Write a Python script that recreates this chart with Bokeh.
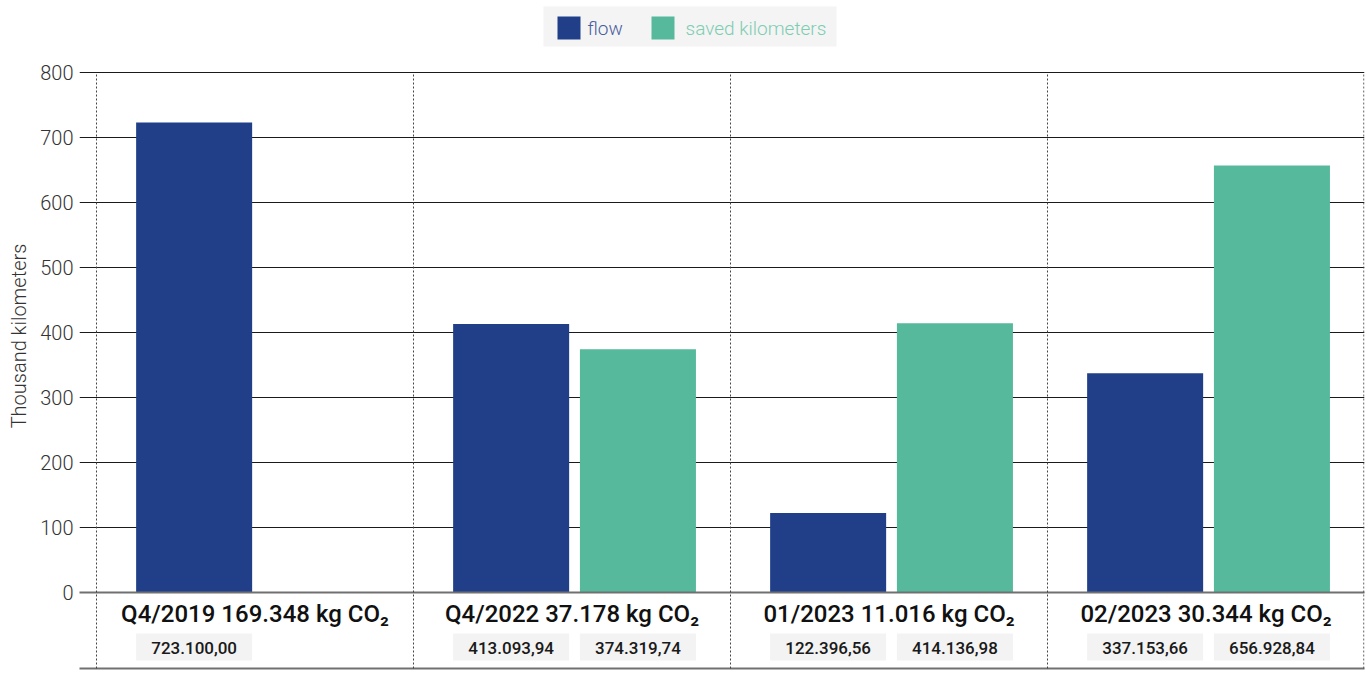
import math
from bokeh.plotting import figure
from bokeh.models import ColumnDataSource, Range1d, FixedTicker
from bokeh.core.properties import value
from bokeh.embed import file_html
from bokeh.resources import INLINE

# ---------------- data ----------------
periods = ["Q4/2019", "Q4/2022", "01/2023", "02/2023"]
co2_kg = [169348, 37178, 11016, 30344]
flow_km = [723100.00, 413093.94, 122396.56, 337153.66]
saved_km = [float("nan"), 374319.74, 414136.98, 656928.84]
series_names = ["flow", "saved kilometers"]
y_ticks = [0, 100, 200, 300, 400, 500, 600, 700, 800]
y_title = "Thousand kilometers"

FLOW_C = "#213f89"
SAVED_C = "#56b99c"
FONT_LIGHT = "Roboto Light"
FONT_MED = "Roboto Medium"

def de_num(v, dec):
    s = f"{v:,.{dec}f}"
    return s.replace(",", "X").replace(".", ",").replace("X", ".")

# ---------------- geometry ----------------
W, H = 1366, 671
LEFT = 79
RIGHT = 2
BAND_PX = 317.0
OFF_PX = 17
PX_PER_UNIT = 0.65
ZERO_CANVAS = 592
y_end = ZERO_CANVAS / PX_PER_UNIT
y_start = -(H - ZERO_CANVAS) / PX_PER_UNIT

def dy(page_y):
    return (592 - page_y) / PX_PER_UNIT

def dx(page_x):
    return (page_x - 96) / BAND_PX

p = figure(width=W, height=H, output_backend="svg", toolbar_location=None,
           x_range=Range1d(-OFF_PX / BAND_PX, 4.0), y_range=Range1d(y_start, y_end),
           min_border_left=LEFT, min_border_right=RIGHT, min_border_top=0, min_border_bottom=0,
           x_axis_location=None)
p.outline_line_color = None
p.background_fill_color = "white"
p.border_fill_color = "white"
p.xgrid.visible = False

yax = p.yaxis[0]
yax.ticker = FixedTicker(ticks=y_ticks)
yax.axis_line_color = None
yax.major_tick_line_color = None
yax.minor_tick_line_color = None
yax.major_tick_out = 0
yax.major_tick_in = 0
yax.major_label_text_font = FONT_LIGHT
yax.major_label_text_font_size = "20px"
yax.major_label_text_color = "#333333"
yax.major_label_standoff = 6
yax.axis_label = y_title
yax.axis_label_text_font = FONT_LIGHT
yax.axis_label_text_font_size = "20px"
yax.axis_label_text_font_style = "normal"
yax.axis_label_text_color = "#333333"
yax.axis_label_standoff = 6

p.ygrid.ticker = FixedTicker(ticks=y_ticks[1:])
p.ygrid.grid_line_color = "#1a1a1a"
p.ygrid.grid_line_width = 1

# ---------------- bars ----------------
n = len(periods)
centers = [i + 0.5 for i in range(n)]
BW = 0.366
flow_x = [c - 0.192 for c in centers]
saved_x = [c + 0.208 for c in centers]

flow_src = ColumnDataSource(dict(x=flow_x, top=[v / 1000 for v in flow_km],
                                 lab=[de_num(v, 2) for v in flow_km]))
sx, stop, slab = [], [], []
for xx, v in zip(saved_x, saved_km):
    if not math.isnan(v):
        sx.append(xx); stop.append(v / 1000); slab.append(de_num(v, 2))
saved_src = ColumnDataSource(dict(x=sx, top=stop, lab=slab))

p.vbar(x="x", top="top", bottom=0, width=BW, source=flow_src,
       fill_color=FLOW_C, line_color=None)
p.vbar(x="x", top="top", bottom=0, width=BW, source=saved_src,
       fill_color=SAVED_C, line_color=None)

# zero line and bottom line
p.segment(x0=[-1], x1=[5], y0=[0], y1=[0], line_color="#707070", line_width=2)
p.segment(x0=[-1], x1=[5], y0=[dy(668)], y1=[dy(668)], line_color="#707070", line_width=2)

# dotted separators
sep_x = [float(i) for i in range(n)] + [3.998]
p.segment(x0=sep_x, x1=sep_x, y0=[dy(668)] * len(sep_x), y1=[800] * len(sep_x),
          line_color="#444444", line_width=1, line_dash="2 2")

# category labels
cat_src = ColumnDataSource(dict(x=centers,
                                t=[f"{pp} {de_num(c, 0)} kg CO\u2082" for pp, c in zip(periods, co2_kg)]))
p.text(x="x", y=dy(613), text="t", source=cat_src, text_font=value(FONT_MED),
       text_font_size="24px", text_color="#111111",
       text_align="center", text_baseline="middle")

# value boxes
for src in (flow_src, saved_src):
    p.rect(x="x", y=(dy(633) + dy(660)) / 2, width=BW, height=dy(633) - dy(660),
           source=src, fill_color="#f3f3f3", line_color=None)
    p.text(x="x", y=dy(647), text="lab", source=src, text_font=value(FONT_MED),
           text_font_size="17px", text_color="#1a1a1a",
           text_align="center", text_baseline="middle")

# ---------------- legend (drawn) ----------------
p.quad(left=[dx(543)], right=[dx(836)], top=[dy(6)], bottom=[dy(46)],
       fill_color="#f4f4f4", line_color=None)
leg_sq_x = [dx(557), dx(651)]
p.quad(left=leg_sq_x, right=[v + 23 / BAND_PX for v in leg_sq_x],
       top=[dy(16)] * 2, bottom=[dy(39)] * 2,
       fill_color=[FLOW_C, SAVED_C], line_color=None)
p.text(x=[dx(587), dx(685)], y=[dy(27.5)] * 2, text=series_names,
       text_font=value(FONT_LIGHT), text_font_size="19px",
       text_color=["#4a5c9e", "#7ecdb2"], text_align="left", text_baseline="middle")

open("out.html", "w").write(file_html(p, INLINE))
